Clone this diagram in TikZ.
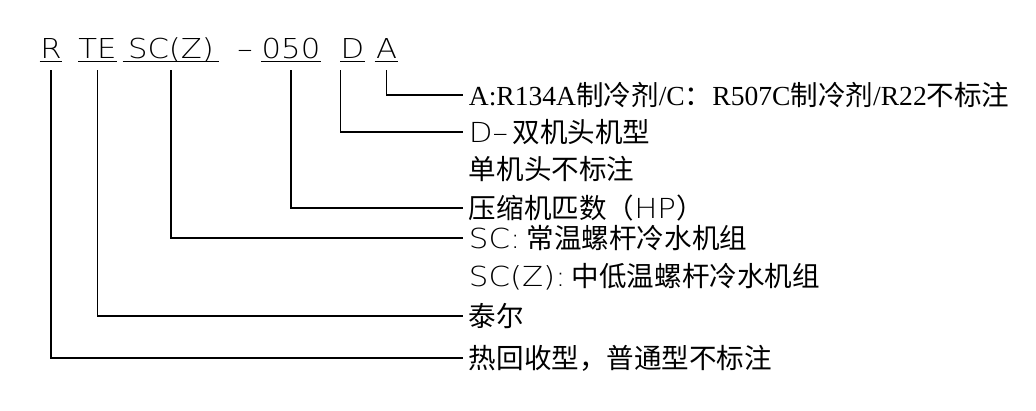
\documentclass[tikz,border=0pt]{standalone}
\usepackage{fontspec}
\setmainfont{Liberation Serif}
\newfontfamily\cjk{Noto Sans CJK SC}
\newfontfamily\simplex[FakeStretch=1.12]{DejaVu Sans ExtraLight}
\tikzset{
  code/.style={font=\simplex\fontsize{19.5}{20}\selectfont, inner xsep=0pt, inner ysep=2pt, text depth=0pt, anchor=base},
  lbl/.style={font=\cjk\fontsize{19.6}{20}\selectfont, inner xsep=4pt, inner ysep=0pt, anchor=west},
  conn/.style={line width=0.8pt},
}
\begin{document}
\begin{tikzpicture}[x=0.025cm, y=-0.025cm]
    \useasboundingbox (0,0) rectangle (1036,410);
    % model code, each part underlined
    \foreach \n/\t/\x/\w in {R/R/51/22, TE/TE/97.5/37, SC/SC(Z)/171/96, HP/050/291/58, D/D/352.5/15, A/A/386.5/23} {
        \node[code, minimum width=\w*0.025cm] (\n) at (\x,58) {\t};
        \draw[conn] (\n.south west) -- (\n.south east);
    }
    \node[code] (dash) at (245,58) {–};

    % meanings
    \node[lbl] (lA) at (463,95) {{\rmfamily A:R134A}制冷剂{\rmfamily /C}：{\rmfamily R507C}制冷剂{\rmfamily /R22}不标注};
    \node[lbl] (lD) at (463,132) {{\simplex D–}\,双机头机型};
    \node[lbl] (lD2) at (463,169) {单机头不标注};
    \node[lbl] (lHP) at (463,208) {压缩机匹数（{\simplex HP}）};
    \node[lbl] (lSC) at (463,238) {{\simplex SC:} 常温螺杆冷水机组};
    \node[lbl] (lSC2) at (463,277) {{\simplex SC(Z):} 中低温螺杆冷水机组};
    \node[lbl] (lTE) at (463,316) {泰尔};
    \node[lbl] (lR) at (463,358) {热回收型，普通型不标注};

    % leaders
    \draw[conn] (A.south) ++(0,9) |- (lA.west);
    \draw[conn] (D.south west) ++(0,9) |- (lD.west);
    \draw[conn] (HP.south) ++(0,9) |- (lHP.west);
    \draw[conn] (SC.south) ++(0,9) |- (lSC.west);
    \draw[conn] (TE.south) ++(0,9) |- (lTE.west);
    \draw[conn] (R.south) ++(0,9) |- (lR.west);
\end{tikzpicture}
\end{document}
